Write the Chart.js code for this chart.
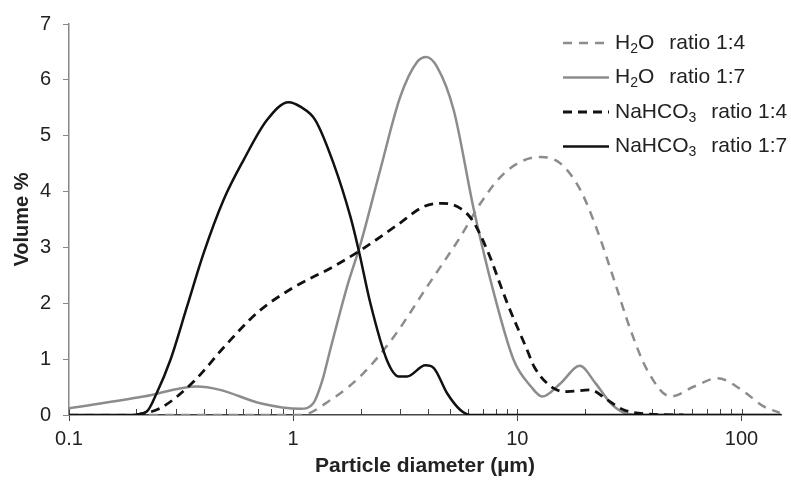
<!DOCTYPE html>
<html>
<head>
<meta charset="utf-8">
<script src="https://cdn.jsdelivr.net/npm/chart.js@4.4.1/dist/chart.umd.min.js"></script>
<style>
  html, body { margin: 0; padding: 0; background: #fff; }
</style>
</head>
<body>
<canvas id="psdChart" width="791" height="481"></canvas>
<script>
// particle size (µm) and volume % for each sample
const h2o14Size = [0.1, 0.5, 1.0, 1.08, 1.47, 2.06, 2.81, 3.96, 5.57, 6.85, 8.4, 10.3, 12.7, 15.6, 19.1, 22.7, 27.0, 32.0, 38.0, 48.3, 61.4, 78.2, 100, 126, 148];
const h2o14Vol = [0, 0, 0, 0, 0.27, 0.75, 1.40, 2.30, 3.19, 3.79, 4.26, 4.53, 4.62, 4.50, 4.03, 3.31, 2.42, 1.52, 0.80, 0.33, 0.51, 0.66, 0.45, 0.15, 0.04];

const h2o17Size = [0.1, 0.215, 0.372, 0.472, 0.713, 1.08, 1.23, 1.345, 1.47, 1.74, 2.0, 2.45, 3.0, 3.57, 3.92, 4.39, 5.2, 6.4, 7.86, 9.64, 11.5, 12.9, 15.6, 19.0, 22.3, 26.1, 29.9, 35, 150];
const h2o17Vol = [0.12, 0.33, 0.51, 0.45, 0.21, 0.11, 0.21, 0.6, 1.2, 2.3, 3.07, 4.4, 5.69, 6.32, 6.41, 6.23, 5.46, 3.67, 2.18, 0.98, 0.51, 0.33, 0.57, 0.88, 0.57, 0.21, 0.04, 0, 0];

const nahco14Size = [0.2, 0.255, 0.36, 0.5, 0.7, 1.0, 1.5, 2.0, 2.91, 3.82, 4.63, 5.57, 6.29, 7.34, 9.02, 11.07, 11.9, 14.5, 16.7, 21.2, 25.2, 29.9, 38, 55];
const nahco14Vol = [0, 0.12, 0.6, 1.25, 1.85, 2.28, 2.65, 2.95, 3.40, 3.73, 3.79, 3.70, 3.49, 2.95, 2.0, 1.16, 0.86, 0.48, 0.42, 0.45, 0.27, 0.09, 0.02, 0];

const nahco17Size = [0.1, 0.19, 0.222, 0.246, 0.283, 0.336, 0.398, 0.489, 0.60, 0.764, 0.954, 1.076, 1.255, 1.515, 1.80, 1.96, 2.21, 2.62, 2.96, 3.22, 3.89, 4.24, 4.86, 5.57, 6.18, 150];
const nahco17Vol = [0, 0, 0.06, 0.39, 0.98, 1.94, 2.89, 3.85, 4.56, 5.28, 5.60, 5.52, 5.28, 4.50, 3.55, 2.95, 2.0, 0.98, 0.69, 0.69, 0.89, 0.84, 0.39, 0.09, 0, 0];

const xTickValues = [0.1, 1, 10, 100];
const yTickValues = [0, 1, 2, 3, 4, 5, 6, 7];

// legend text pieces: [text, isSubscript]
const legendLabels = [
  [["H", false], ["2", true], ["O", false], ["ratio 1:4", false]],
  [["H", false], ["2", true], ["O", false], ["ratio 1:7", false]],
  [["NaHCO", false], ["3", true], ["ratio 1:4", false]],
  [["NaHCO", false], ["3", true], ["ratio 1:7", false]],
];

const GREY = "#8c8c8c";
const BLACK = "#111111";
const FONT = "'Liberation Sans', Arial, sans-serif";

function toPoints(xs, ys) {
  return xs.map((x, i) => ({ x: x, y: ys[i] }));
}

const datasets = [
  { data: toPoints(nahco17Size, nahco17Vol), borderColor: BLACK, borderWidth: 2.5 },
  { data: toPoints(nahco14Size, nahco14Vol), borderColor: BLACK, borderWidth: 2.8, borderDash: [9, 6] },
  { data: toPoints(h2o17Size, h2o17Vol), borderColor: GREY, borderWidth: 2.5 },
  { data: toPoints(h2o14Size, h2o14Vol), borderColor: GREY, borderWidth: 2.5, borderDash: [9, 7] },
];
// legend order is H2O 1:4, H2O 1:7, NaHCO3 1:4, NaHCO3 1:7
const legendDatasets = [datasets[3], datasets[2], datasets[1], datasets[0]];

// minor ticks (pointing up into the plot) on the log axis
const minorTicks = {
  id: "minorTicks",
  beforeDatasetsDraw(chart) {
    const xs = chart.scales.x;
    const ctx = chart.ctx;
    const y0 = chart.chartArea.bottom;
    ctx.save();
    ctx.strokeStyle = "#444";
    ctx.lineWidth = 1;
    let dec = 0.1;
    for (let d = 0; d < 4; d++) {
      for (let m = 1; m <= 9; m++) {
        const v = dec * m;
        if (v > xs.max) break;
        const px = Math.round(xs.getPixelForValue(v)) + 0.5;
        ctx.beginPath();
        ctx.moveTo(px, y0);
        ctx.lineTo(px, y0 - 6);
        ctx.stroke();
      }
      dec *= 10;
    }
    ctx.restore();
  },
};

// legend drawn inside the plot, top right, with subscripts
const sampleLegend = {
  id: "sampleLegend",
  afterDraw(chart) {
    const ctx = chart.ctx;
    const area = chart.chartArea;
    const x0 = area.right - 218;
    const x1 = x0 + 46;
    ctx.save();
    legendLabels.forEach((parts, i) => {
      const ds = legendDatasets[i];
      const y = area.top + 19 + i * 34.5;
      ctx.strokeStyle = ds.borderColor;
      ctx.lineWidth = ds.borderWidth;
      ctx.setLineDash(ds.borderDash || []);
      ctx.beginPath();
      ctx.moveTo(x0, y);
      ctx.lineTo(x1, y);
      ctx.stroke();
      ctx.setLineDash([]);

      let tx = x1 + 6;
      ctx.fillStyle = "#222";
      ctx.textBaseline = "middle";
      ctx.textAlign = "left";
      parts.forEach(([txt, sub], j) => {
        if (j === parts.length - 1) tx += 15;
        if (sub) {
          ctx.font = "14px " + FONT;
          ctx.fillText(txt, tx, y + 6);
        } else {
          ctx.font = "21px " + FONT;
          ctx.fillText(txt, tx, y);
        }
        tx += ctx.measureText(txt).width;
      });
    });
    ctx.restore();
  },
};

Chart.defaults.font.family = FONT;
Chart.defaults.color = "#222";

new Chart(document.getElementById("psdChart").getContext("2d"), {
  type: "line",
  data: { datasets: datasets },
  options: {
    responsive: false,
    animation: false,
    layout: { padding: { top: 24, right: 10, left: 0, bottom: 0 } },
    elements: {
      point: { radius: 0 },
      line: { cubicInterpolationMode: "monotone", fill: false },
    },
    plugins: {
      legend: { display: false },
      tooltip: { enabled: false },
    },
    scales: {
      x: {
        type: "logarithmic",
        min: 0.1,
        max: 150,
        afterBuildTicks: (scale) => {
          scale.ticks = xTickValues.map((v) => ({ value: v }));
        },
        afterFit: (scale) => {
          scale.height = 66;
        },
        ticks: {
          autoSkip: false,
          maxRotation: 0,
          padding: 6,
          font: { size: 20 },
          callback: (v) => String(v),
        },
        grid: { drawOnChartArea: false, drawTicks: true, tickLength: 6, color: "#444" },
        border: { color: "#444", width: 1.5 },
        title: {
          display: true,
          text: "Particle diameter (µm)",
          font: { size: 21, weight: "bold" },
          padding: { top: 0, bottom: 2 },
        },
      },
      y: {
        min: 0,
        max: 7,
        afterBuildTicks: (scale) => {
          scale.ticks = yTickValues.map((v) => ({ value: v }));
        },
        afterFit: (scale) => {
          scale.width = 69;
        },
        ticks: { padding: 12, font: { size: 20 } },
        grid: { drawOnChartArea: false, drawTicks: true, tickLength: 6, color: "#888" },
        border: { color: "#888", width: 1.5 },
        title: {
          display: true,
          text: "Volume %",
          font: { size: 20, weight: "bold" },
          padding: { top: 10, bottom: 0 },
        },
      },
    },
  },
  plugins: [minorTicks, sampleLegend],
});
</script>
</body>
</html>
